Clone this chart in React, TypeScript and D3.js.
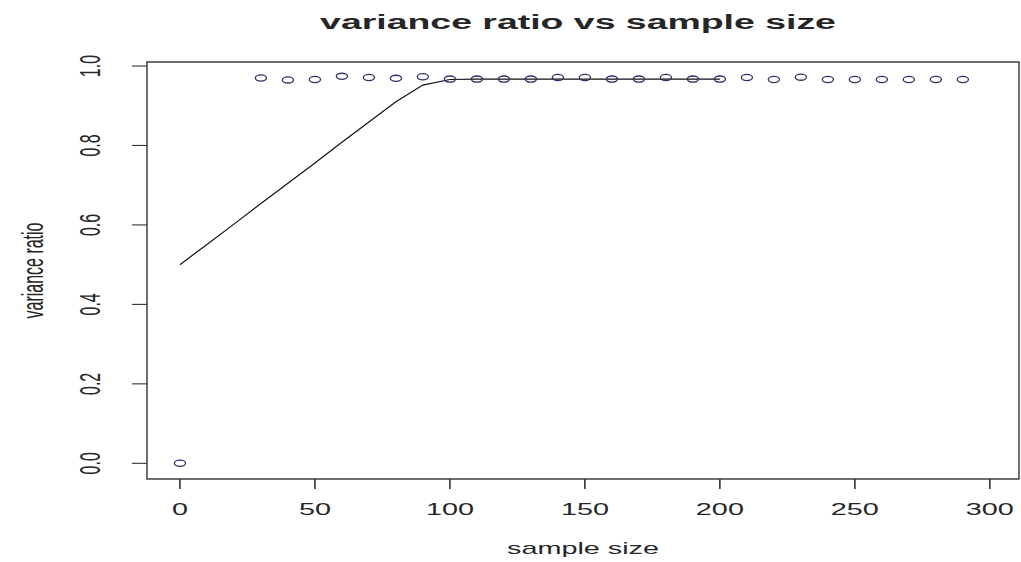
import React, { useEffect, useRef } from 'react';
import * as d3 from 'd3';

// observed points (sample size -> variance ratio)
const sampleSizes = [0, 30, 40, 50, 60, 70, 80, 90, 100, 110, 120, 130, 140, 150, 160, 170, 180, 190, 200, 210, 220, 230, 240, 250, 260, 270, 280, 290];
const varianceRatios = [0.0, 0.970, 0.965, 0.966, 0.974, 0.971, 0.969, 0.973, 0.967, 0.967, 0.967, 0.967, 0.971, 0.971, 0.967, 0.967, 0.971, 0.967, 0.967, 0.971, 0.966, 0.972, 0.966, 0.966, 0.966, 0.966, 0.966, 0.966];

// fitted curve
const fitSizes = [0, 10, 20, 30, 40, 50, 60, 70, 80, 90, 100, 110, 120, 130, 140, 150, 160, 170, 180, 190, 200];
const fitRatios = [0.5, 0.551, 0.602, 0.654, 0.705, 0.756, 0.808, 0.859, 0.910, 0.952, 0.966, 0.967, 0.967, 0.967, 0.967, 0.967, 0.967, 0.967, 0.967, 0.967, 0.967];

const xTicks = [0, 50, 100, 150, 200, 250, 300];
const yTicks = [0, 0.2, 0.4, 0.6, 0.8, 1.0];

const W = 1021;
const H = 562;
const SX = 1.8; // the source picture is stretched sideways

const App = () => {
  const svgRef = useRef<SVGSVGElement>(null);

  useEffect(() => {
    const svg = d3.select(svgRef.current);
    svg.selectAll('*').remove();

    const margin = { top: 62, right: 2, bottom: 83, left: 147 };

    const x = d3.scaleLinear()
      .domain([-12.2, 310.8])
      .range([margin.left, W - margin.right]);

    const y = d3.scaleLinear()
      .domain([-0.0395, 1.0101])
      .range([H - margin.bottom, margin.top]);

    const font = '"Liberation Sans", Arial, sans-serif';
    const ink = '#262626';

    const addText = (str, tx, ty, size, rotate = false, weight = 'normal') => {
      svg.append('text')
        .attr('transform', `translate(${tx},${ty}) scale(${SX},1)` + (rotate ? ' rotate(-90)' : ''))
        .attr('text-anchor', 'middle')
        .attr('font-family', font)
        .attr('font-size', size)
        .attr('font-weight', weight)
        .attr('fill', ink)
        .text(str);
    };

    // plot frame
    svg.append('rect')
      .attr('x', margin.left)
      .attr('y', margin.top)
      .attr('width', W - margin.right - margin.left)
      .attr('height', H - margin.bottom - margin.top)
      .attr('fill', 'none')
      .attr('stroke', '#333')
      .attr('stroke-width', 1.4);

    // x axis
    svg.selectAll('.xtick')
      .data(xTicks)
      .enter()
      .append('line')
      .attr('class', 'xtick')
      .attr('x1', d => x(d))
      .attr('x2', d => x(d))
      .attr('y1', H - margin.bottom)
      .attr('y2', H - margin.bottom + 10)
      .attr('stroke', '#333')
      .attr('stroke-width', 1.6);

    xTicks.forEach(t => addText(String(t), x(t), 515, 16));

    // y axis
    svg.selectAll('.ytick')
      .data(yTicks)
      .enter()
      .append('line')
      .attr('class', 'ytick')
      .attr('x1', margin.left - 15)
      .attr('x2', margin.left)
      .attr('y1', d => y(d))
      .attr('y2', d => y(d))
      .attr('stroke', '#333')
      .attr('stroke-width', 1.1);

    yTicks.forEach(t => addText(t.toFixed(1), 100, y(t), 16, true));

    // titles
    const cx = (margin.left + W - margin.right) / 2;
    addText('variance ratio vs sample size', cx - 5, 29, 20.8, false, 'bold');
    addText('sample size', cx, 554, 16);
    addText('variance ratio', 43, (margin.top + H - margin.bottom) / 2, 16, true);

    // fitted line
    const lineGen = d3.line<number>()
      .x((d, i) => x(fitSizes[i]))
      .y(d => y(d));

    svg.append('path')
      .datum(fitRatios)
      .attr('d', lineGen)
      .attr('fill', 'none')
      .attr('stroke', '#111')
      .attr('stroke-width', 1.2);

    // points
    svg.selectAll('.point')
      .data(varianceRatios)
      .enter()
      .append('ellipse')
      .attr('class', 'point')
      .attr('cx', (d, i) => x(sampleSizes[i]))
      .attr('cy', d => y(d))
      .attr('rx', 5.6)
      .attr('ry', 3.1)
      .attr('fill', 'none')
      .attr('stroke', '#30306e')
      .attr('stroke-width', 1.3);
  }, []);

  return (
    <svg
      ref={svgRef}
      width={W}
      height={H}
      style={{ position: 'absolute', left: 0, top: 0, background: '#fff' }}
    />
  );
};

export default App;
